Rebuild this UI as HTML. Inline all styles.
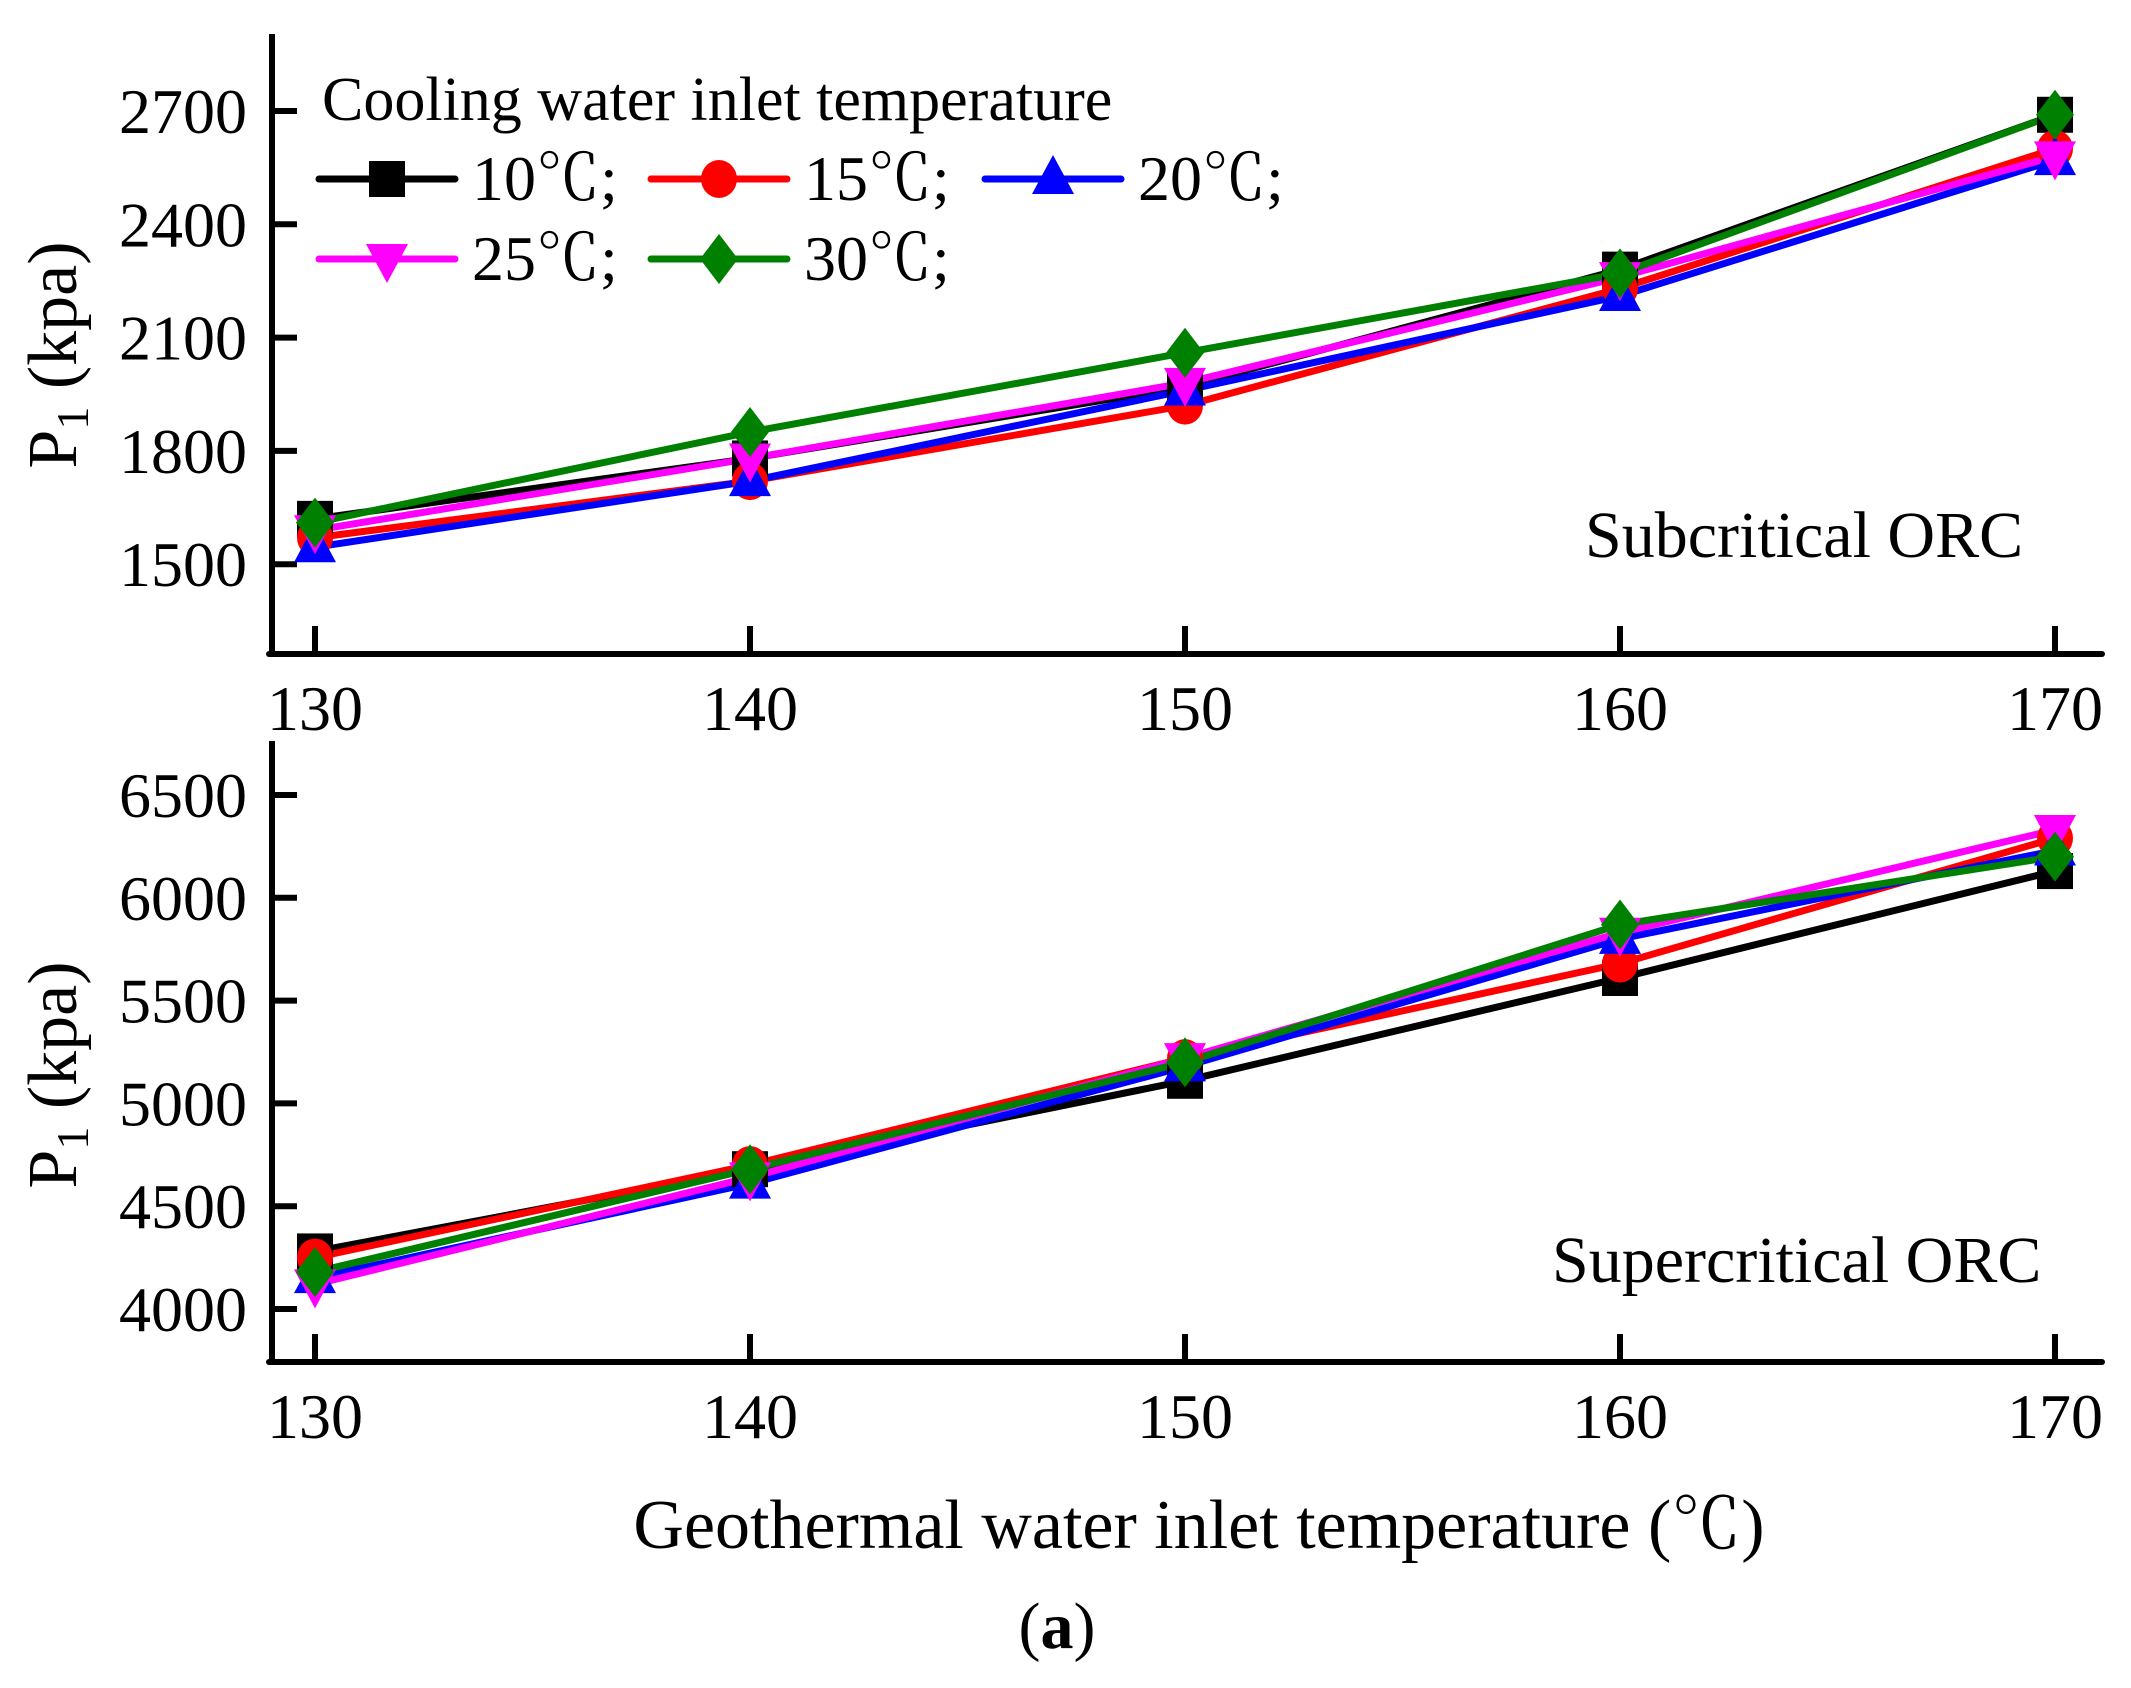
<!DOCTYPE html>
<html><head><meta charset="utf-8"><style>
html,body{margin:0;padding:0;background:#fff;}
svg{display:block;font-family:"Liberation Serif","Noto Serif CJK SC",serif;}
</style></head><body>
<svg id="chart" width="2131" height="1688" viewBox="0 0 2131 1688" xmlns="http://www.w3.org/2000/svg">
<g id="root"></g>
</svg>
<script>
const categories=[130,140,150,160,170];
const seriesNames=["10℃;","15℃;","20℃;","25℃;","30℃;"];
const seriesColors=["#000000","#ff0000","#0000ff","#ff00ff","#008000"];
const seriesMarkers=["square","circle","triangle","invtriangle","diamond"];
const sub10=[1620,1780,1970,2280,2690];
const sub15=[1570,1720,1920,2230,2600];
const sub20=[1545,1720,1960,2210,2570];
const sub25=[1590,1780,1980,2260,2580];
const sub30=[1610,1850,2060,2270,2690];
const sup10=[4280,4680,5110,5610,6130];
const sup15=[4250,4700,5220,5680,6290];
const sup20=[4150,4610,5180,5800,6230];
const sup25=[4120,4640,5220,5830,6330];
const sup30=[4180,4680,5200,5870,6200];
const subTicks=[1500,1800,2100,2400,2700];
const supTicks=[4000,4500,5000,5500,6000,6500];
const xTickLabels=["130","140","150","160","170"];

const NS="http://www.w3.org/2000/svg";
const root=document.getElementById('root');
function mk(tag,attrs,parent){const e=document.createElementNS(NS,tag);for(const k in attrs)e.setAttribute(k,attrs[k]);(parent||root).appendChild(e);return e;}
function xS(v){return 315+(v-130)*43.5;}

function marker(g,type,x,y,c){
  let e;
  if(type==="square"){e=mk('rect',{x:x-18,y:y-18,width:36,height:36,fill:c},g);}
  else if(type==="circle"){e=mk('ellipse',{cx:x,cy:y,rx:18,ry:19,fill:c},g);}
  else if(type==="triangle"){e=mk('polygon',{points:`${x},${y-24} ${x+21},${y+15} ${x-21},${y+15}`,fill:c},g);}
  else if(type==="invtriangle"){e=mk('polygon',{points:`${x-21},${y-15} ${x+21},${y-15} ${x},${y+24}`,fill:c},g);}
  else {e=mk('polygon',{points:`${x},${y-25} ${x+19},${y} ${x},${y+25} ${x-19},${y}`,fill:c},g);}
  return e;
}

function panel(name,top,bottom,yTop,yPerUnit,yVal0,ticks,series,label,labelX,labelY,titleY){
  const yS=v=>yVal0-(v-yTop)*yPerUnit;
  const g=mk('g',{});
  
  
  const ya=mk('line',{x1:272,y1:top,x2:272,y2:bottom+3,stroke:'#000','stroke-width':6},g);
  
  
  const xa=mk('line',{x1:269,y1:bottom,x2:2102,y2:bottom,stroke:'#000','stroke-width':6,'stroke-linecap':'round'},g);
  
  
  ticks.forEach(t=>{
    const y=yS(t);
    const tk=mk('line',{x1:272,y1:y,x2:297,y2:y,stroke:'#000','stroke-width':6},g);
    
    
    const tx=mk('text',{x:247,y:y+22,'font-size':64,'text-anchor':'end',fill:'#000'},g);
    tx.textContent=t;
    
    
  });
  categories.forEach((c,i)=>{
    const x=xS(c);
    const tk=mk('line',{x1:x,y1:bottom,x2:x,y2:bottom-28,stroke:'#000','stroke-width':6},g);
    
    
    const tx=mk('text',{x:x,y:bottom+76,'font-size':64,'text-anchor':'middle',fill:'#000'},g);
    tx.textContent=xTickLabels[i];
    
    
  });
  series.forEach((vals,si)=>{
    const pts=vals.map((v,i)=>xS(categories[i])+','+yS(v)).join(' ');
    const l=mk('polyline',{points:pts,fill:'none',stroke:seriesColors[si],'stroke-width':7,'stroke-linejoin':'round'},g);
    
    
  });
  series.forEach((vals,si)=>{
    vals.forEach((v,i)=>{
      const m=marker(g,seriesMarkers[si],xS(categories[i]),yS(v),seriesColors[si]);
      
      
    });
  });
  const lb=mk('text',{x:labelX,y:labelY,'font-size':66,fill:'#000'},g);
  lb.textContent=label;
  
  
  const yt=mk('text',{x:0,y:0,'font-size':70,'text-anchor':'middle',fill:'#000',transform:`translate(76,${titleY}) rotate(-90)`},g);
  yt.innerHTML='P<tspan font-size="46" dy="12">1</tspan><tspan dy="-12"> (kpa)</tspan>';
  
  
}

panel('subcritical',34,654,2700,113.3/300,111,subTicks,[sub10,sub15,sub20,sub25,sub30],'Subcritical ORC',1585,557,355);
panel('supercritical',741,1362,6500,102.8/500,795,supTicks,[sup10,sup15,sup20,sup25,sup30],'Supercritical ORC',1552,1282,1075);

// legend
const lg=mk('g',{});


const lt=mk('text',{x:322,y:120,'font-size':62,fill:'#000'},lg);
lt.textContent='Cooling water inlet temperature';


const legPos=[[319,179],[651,179],[985,179],[319,259],[651,259]];
seriesNames.forEach((n,i)=>{
  const [x,y]=legPos[i];
  const e=mk('g',{},lg);
  
  
  mk('line',{x1:x,y1:y,x2:x+136,y2:y,stroke:seriesColors[i],'stroke-width':7,'stroke-linecap':'round'},e);
  marker(e,seriesMarkers[i],x+68,y,seriesColors[i]);
  const t=mk('text',{x:x+153,y:y+21,'font-size':64,fill:'#000'},e);
  t.textContent=n;
});

const xt=mk('text',{x:1199,y:1548,'font-size':70,'text-anchor':'middle',fill:'#000'});
xt.textContent='Geothermal water inlet temperature (℃)';


const cap=mk('text',{x:1057,y:1648,'font-size':66,'text-anchor':'middle',fill:'#000'});
cap.innerHTML='(<tspan font-weight="bold">a</tspan>)';


</script>
</body></html>
